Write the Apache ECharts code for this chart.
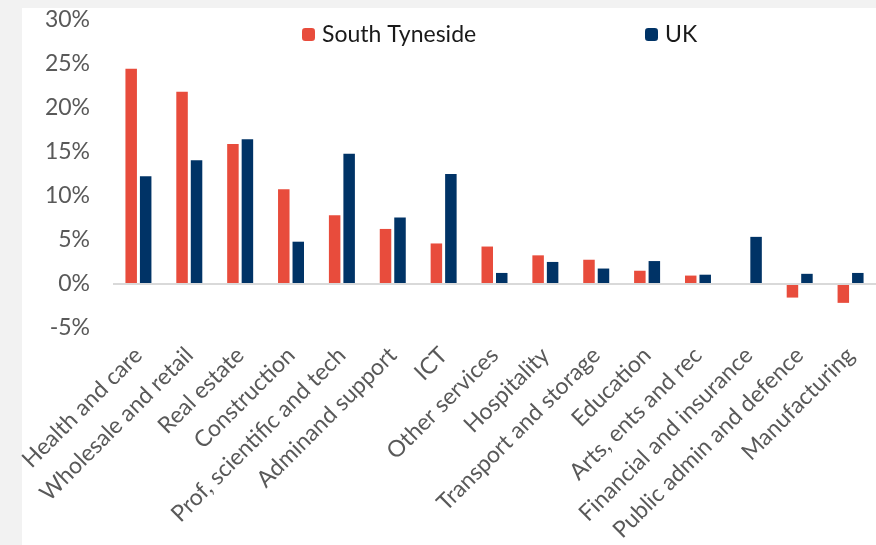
<!DOCTYPE html>
<html>
<head>
<meta charset="utf-8">
<script src="https://cdn.jsdelivr.net/npm/echarts@6/dist/echarts.min.js"></script>
<style>
html,body{margin:0;padding:0;background:#f2f2f2;}
#chart{width:876px;height:545px;}
</style>
</head>
<body>
<div id="chart"></div>
<script>
const categories = ["Health and care","Wholesale and retail","Real estate","Construction","Prof, scientific and tech","Adminand support","ICT","Other services","Hospitality","Transport and storage","Education","Arts, ents and rec","Financial and insurance","Public admin and defence","Manufacturing"];
const southTyneside = [24.4, 21.8, 15.85, 10.7, 7.75, 6.2, 4.55, 4.2, 3.2, 2.7, 1.45, 0.9, 0, -1.6, -2.2];
const uk = [12.2, 14.0, 16.4, 4.75, 14.75, 7.5, 12.45, 1.2, 2.45, 1.7, 2.55, 1.0, 5.3, 1.1, 1.2];
const seriesNames = ["South Tyneside", "UK"];

const FONT = 'Lato';
const chart = echarts.init(document.getElementById('chart'));
chart.setOption({
  animation: false,
  backgroundColor: '#f2f2f2',
  graphic: [{
    type: 'rect', left: 22, top: 8, z: -10,
    shape: { width: 854, height: 537 },
    style: { fill: '#ffffff' }
  }],
  textStyle: { fontFamily: FONT },
  legend: [
    { data: [seriesNames[0]], left: 302, top: 23, itemWidth: 13, itemHeight: 13, itemGap: 0,
      textStyle: { fontFamily: FONT, fontSize: 23, color: '#1a1a1a', padding: [0,0,0,2] }, padding: 0 },
    { data: [seriesNames[1]], left: 645, top: 23, itemWidth: 13, itemHeight: 13, itemGap: 0,
      textStyle: { fontFamily: FONT, fontSize: 23, color: '#1a1a1a', padding: [0,0,0,2] }, padding: 0 }
  ],
  grid: { left: 113, top: 19.5, width: 766, height: 308 },
  xAxis: {
    type: 'category',
    data: categories,
    axisLine: { show: false, onZero: false },
    axisTick: { show: false },
    axisLabel: { rotate: 45, interval: 0, margin: 24, fontFamily: FONT, fontSize: 23, color: '#595959' }
  },
  yAxis: {
    type: 'value',
    min: -5, max: 30, interval: 5,
    splitLine: { show: false },
    axisLine: { show: false },
    axisTick: { show: false },
    axisLabel: { formatter: '{value}%', margin: 23, fontFamily: FONT, fontSize: 23, color: '#595959' }
  },
  series: [
    { name: seriesNames[0], type: 'bar', data: southTyneside, barWidth: 11.5, barGap: '26%',
      itemStyle: { color: '#e84c3c' },
      markLine: { silent: true, symbol: 'none', label: { show: false },
        lineStyle: { color: '#d9d9d9', width: 2, type: 'solid' }, data: [{ yAxis: 0 }] } },
    { name: seriesNames[1], type: 'bar', data: uk, barWidth: 11.5,
      itemStyle: { color: '#003366' } }
  ]
});
</script>
</body>
</html>
